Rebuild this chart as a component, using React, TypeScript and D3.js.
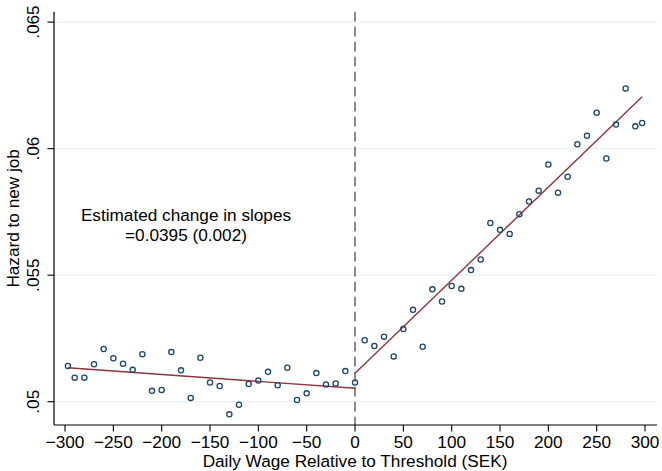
import React from "react";
import * as d3 from "d3";

// Bin centres (SEK relative to the threshold) and mean hazard in each bin
const leftWage = [-297, -290, -280, -270, -260, -250, -240, -230, -220, -210, -200, -190, -180, -170, -160, -150, -140, -130, -120, -110, -100, -90, -80, -70, -60, -50, -40, -30, -20, -10, 0];
const leftHazard = [0.05141, 0.05095, 0.05095, 0.05148, 0.05208, 0.05172, 0.0515, 0.05126, 0.05188, 0.05043, 0.05046, 0.05196, 0.05124, 0.05015, 0.05174, 0.05076, 0.05062, 0.0495, 0.04988, 0.0507, 0.05084, 0.05118, 0.05065, 0.05134, 0.05007, 0.05033, 0.05113, 0.05068, 0.05072, 0.05121, 0.05076];

const rightWage = [10, 20, 30, 40, 50, 60, 70, 80, 90, 100, 110, 120, 130, 140, 150, 160, 170, 180, 190, 200, 210, 220, 230, 240, 250, 260, 270, 280, 290, 297];
const rightHazard = [0.05243, 0.0522, 0.05257, 0.05179, 0.05287, 0.05363, 0.05217, 0.05444, 0.05396, 0.05457, 0.05446, 0.0552, 0.05562, 0.05706, 0.05679, 0.05663, 0.05741, 0.05791, 0.05834, 0.05937, 0.05826, 0.05889, 0.06017, 0.06051, 0.06142, 0.05961, 0.06095, 0.06238, 0.06088, 0.06101];

// Linear fits on each side of the threshold (endpoints)
const leftFitWage = [-297, 0];
const leftFitHazard = [0.05134, 0.05053];
const rightFitWage = [0, 297];
const rightFitHazard = [0.05112, 0.06205];

const xTicks = [-300, -250, -200, -150, -100, -50, 0, 50, 100, 150, 200, 250, 300];
const yTicks = [0.05, 0.055, 0.06, 0.065];
const yTickLabels = [".05", ".055", ".06", ".065"];

const annotationLines = ["Estimated change in slopes", "=0.0395 (0.002)"];
const xTitle = "Daily Wage Relative to Threshold (SEK)";
const yTitle = "Hazard to new job";

const W = 662;
const H = 471;
const left = 54;
const right = 657;
const top = 11.7;
const bottom = 425;

const FONT = "'Liberation Sans', Arial, Helvetica, sans-serif";
const FS = 17.2;
const NAVY = "#1a476f";
const MAROON = "#90353b";
const GRID = "#eaf2f3";

export default function App() {
  const x = d3.scaleLinear().domain([-311.4, 312.4]).range([left, right]);
  const y = d3.scaleLinear().domain([0.04908, 0.06541]).range([bottom, top]);

  const line = d3
    .line<[number, number]>()
    .x((d) => x(d[0]))
    .y((d) => y(d[1]));

  const leftFit = leftFitWage.map((w, i) => [w, leftFitHazard[i]] as [number, number]);
  const rightFit = rightFitWage.map((w, i) => [w, rightFitHazard[i]] as [number, number]);

  const points = [
    ...leftWage.map((w, i) => [w, leftHazard[i]]),
    ...rightWage.map((w, i) => [w, rightHazard[i]]),
  ];

  const fmtX = (v: number) => (v < 0 ? "\u2212" + Math.abs(v) : String(v));

  return (
    <svg
      width={W}
      height={H}
      style={{ position: "absolute", left: 0, top: 0, background: "#fff" }}
      fontFamily={FONT}
    >
      <rect x={0} y={0} width={W} height={H} fill="#fff" />

      {/* horizontal grid */}
      {yTicks.map((t) => (
        <line key={"g" + t} x1={left} x2={right} y1={y(t)} y2={y(t)} stroke={GRID} strokeWidth={1.3} />
      ))}

      {/* threshold */}
      <line
        x1={x(0)}
        x2={x(0)}
        y1={top}
        y2={bottom}
        stroke="#6e6e6e"
        strokeWidth={1.6}
        strokeDasharray="9.7,5.3"
      />

      {/* fitted lines */}
      <path d={line(leftFit) || ""} fill="none" stroke={MAROON} strokeWidth={1.4} />
      <path d={line(rightFit) || ""} fill="none" stroke={MAROON} strokeWidth={1.4} />

      {/* binned means */}
      {points.map((p, i) => (
        <circle key={"p" + i} cx={x(p[0])} cy={y(p[1])} r={2.6} fill="none" stroke={NAVY} strokeWidth={1.3} />
      ))}

      {/* axes */}
      <line x1={left} x2={left} y1={top} y2={bottom} stroke="#000" strokeWidth={1.2} />
      <line x1={left} x2={right} y1={bottom} y2={bottom} stroke="#000" strokeWidth={1.2} />

      {yTicks.map((t, i) => (
        <g key={"yt" + t}>
          <line x1={left - 6.5} x2={left} y1={y(t)} y2={y(t)} stroke="#000" strokeWidth={1.1} />
          <text
            transform={`translate(38.5,${y(t)}) rotate(-90)`}
            textAnchor="middle"
            fontSize={FS}
            fill="#000"
          >
            {yTickLabels[i]}
          </text>
        </g>
      ))}

      {xTicks.map((t) => (
        <g key={"xt" + t}>
          <line x1={x(t)} x2={x(t)} y1={bottom} y2={bottom + 6.5} stroke="#000" strokeWidth={1.1} />
          <text x={x(t)} y={447.7} textAnchor="middle" fontSize={FS} fill="#000">
            {fmtX(t)}
          </text>
        </g>
      ))}

      <text x={x(0)} y={466.5} textAnchor="middle" fontSize={FS} fill="#000">
        {xTitle}
      </text>
      <text
        transform={`translate(19,${(top + bottom) / 2}) rotate(-90)`}
        textAnchor="middle"
        fontSize={FS}
        fill="#000"
      >
        {yTitle}
      </text>

      {/* two-line note */}
      {annotationLines.map((s, i) => (
        <text key={"a" + i} x={186} y={221.4 + i * 19.4} textAnchor="middle" fontSize={FS} fill="#000">
          {s}
        </text>
      ))}
    </svg>
  );
}
